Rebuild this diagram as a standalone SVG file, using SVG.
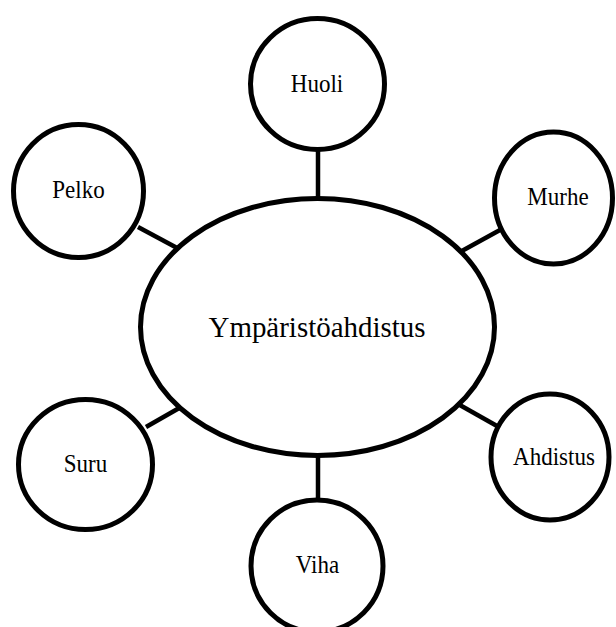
<svg xmlns="http://www.w3.org/2000/svg" width="616" height="627" viewBox="0 0 616 627">
<style>
.n{fill:#fff;stroke:#000;stroke-width:5}
.c line{stroke:#000;stroke-width:4.5}
text{font-family:"Liberation Serif","Times New Roman",serif;fill:#000;text-anchor:middle}
.s{font-size:25px}
.b{font-size:30px}
</style>
<rect width="616" height="627" fill="#fff"/>
<g class="c" id="connectors">
<line x1="318" y1="150" x2="318" y2="200"/>
<line x1="138" y1="227" x2="179" y2="249"/>
<line x1="500" y1="230" x2="460" y2="252"/>
<line x1="146" y1="427" x2="181" y2="407"/>
<line x1="458" y1="404" x2="497" y2="426"/>
<line x1="318" y1="455" x2="318" y2="502"/>
</g>
<g id="center">
<ellipse class="n" cx="317.5" cy="327" rx="177" ry="128.5"/>
<text class="b" transform="translate(317,337) scale(0.965,1)">Ympäristöahdistus</text>
</g>
<g id="huoli">
<ellipse class="n" cx="317.5" cy="84" rx="67" ry="65.5"/>
<text class="s" transform="translate(317,92) scale(0.92,1)">Huoli</text>
</g>
<g id="pelko">
<ellipse class="n" cx="78.5" cy="191" rx="65" ry="66.5"/>
<text class="s" transform="translate(78.5,198) scale(0.92,1)">Pelko</text>
</g>
<g id="murhe">
<ellipse class="n" cx="553.5" cy="198" rx="59" ry="66"/>
<text class="s" transform="translate(558,205) scale(0.92,1)">Murhe</text>
</g>
<g id="suru">
<ellipse class="n" cx="85.5" cy="464.5" rx="67" ry="65"/>
<text class="s" transform="translate(85.5,472) scale(0.92,1)">Suru</text>
</g>
<g id="ahdistus">
<ellipse class="n" cx="550" cy="457" rx="59" ry="63"/>
<text class="s" transform="translate(554,465) scale(0.92,1)">Ahdistus</text>
</g>
<g id="viha">
<ellipse class="n" cx="317" cy="566" rx="66" ry="66"/>
<text class="s" transform="translate(317.5,573) scale(0.92,1)">Viha</text>
</g>
</svg>
